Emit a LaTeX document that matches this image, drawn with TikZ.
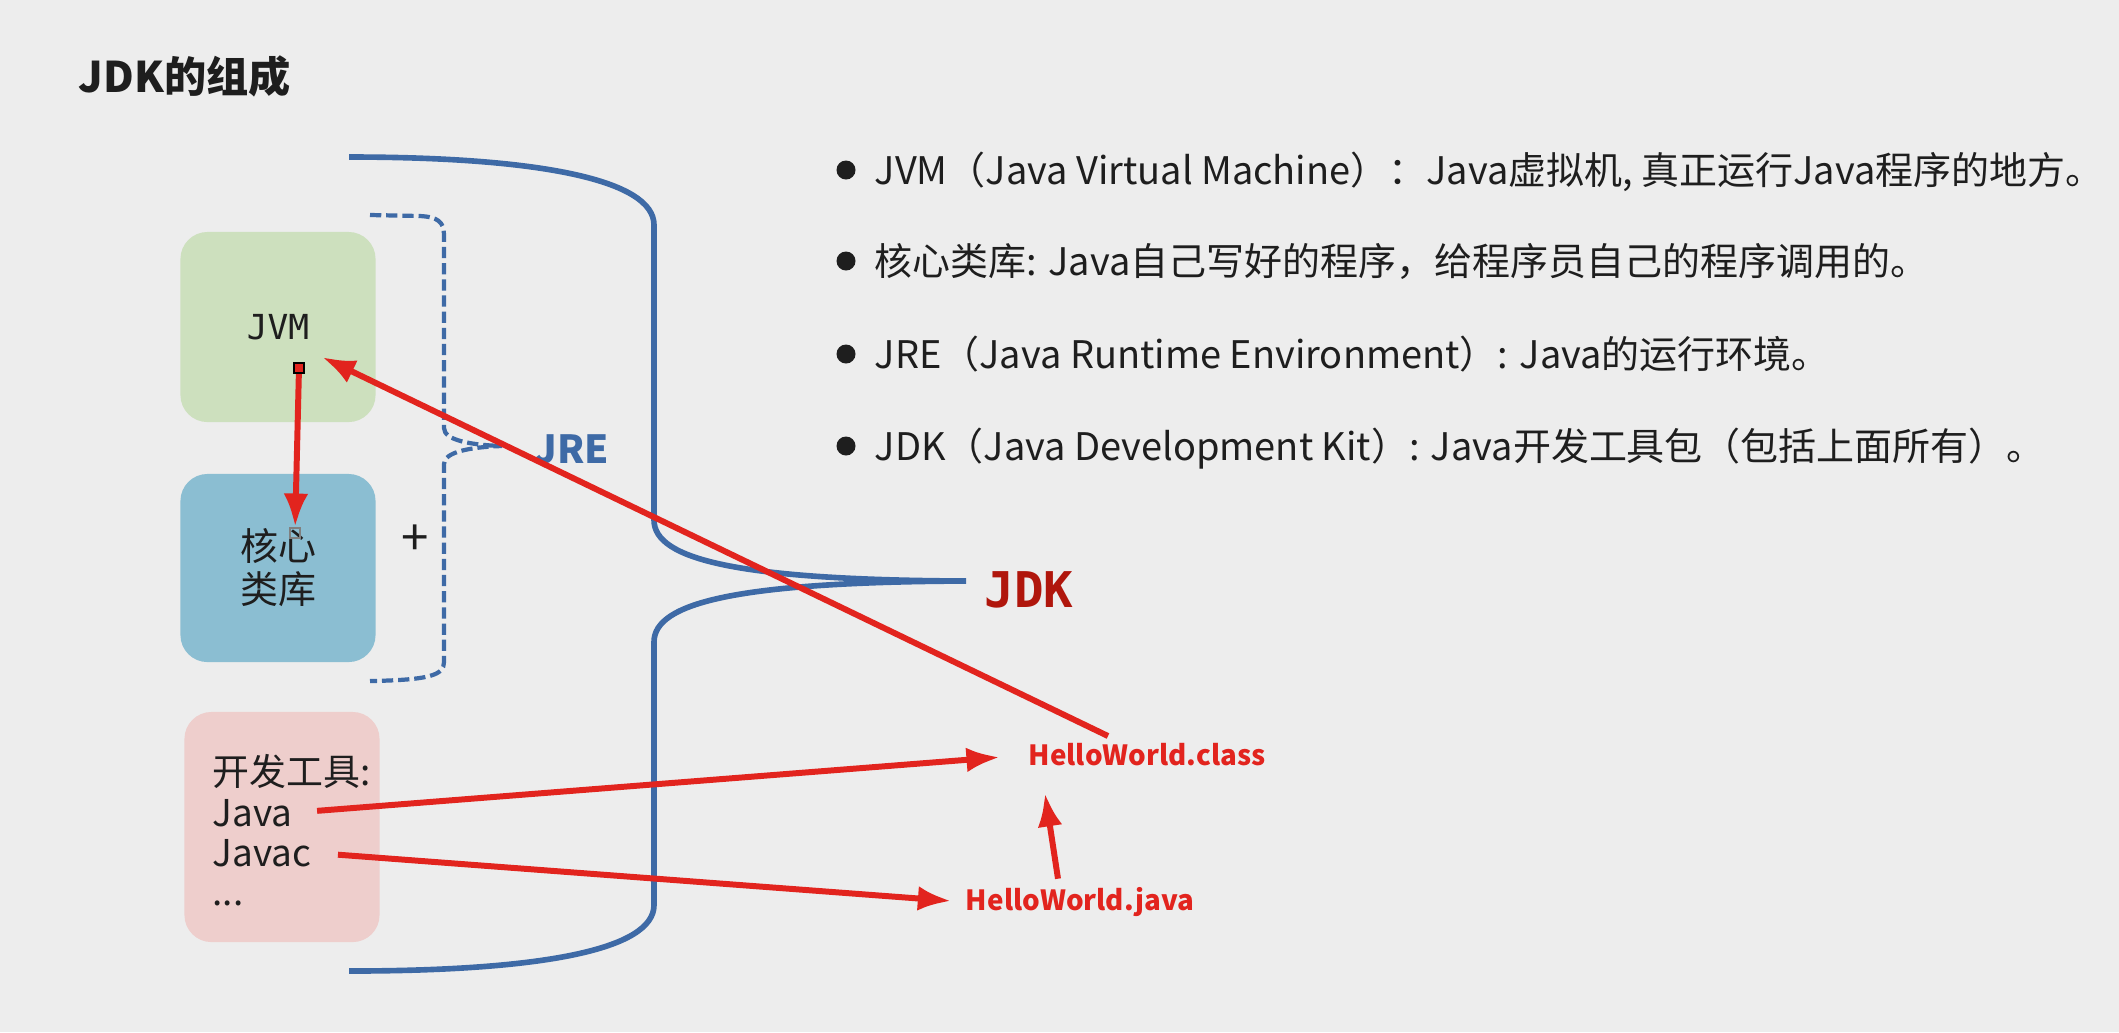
\documentclass[tikz,border=0pt]{standalone}
\usepackage{fontspec}
\setmainfont{Noto Sans CJK SC}
\newfontfamily\monofont{DejaVu Sans Mono}
\usetikzlibrary{arrows.meta, positioning}

\definecolor{bggray}{RGB}{237,237,237}
\definecolor{jdkblue}{RGB}{62,106,166}
\definecolor{jvmgreen}{RGB}{205,224,190}
\definecolor{libblue}{RGB}{139,190,210}
\definecolor{toolpink}{RGB}{238,206,204}
\definecolor{arrowred}{RGB}{226,36,30}
\definecolor{jdkred}{RGB}{176,22,12}
\definecolor{ink}{RGB}{30,30,30}

\tikzset{
  box/.style={rounded corners=0.27cm, minimum width=1.95cm, inner sep=0pt, text=ink},
  redarrow/.style={draw=arrowred, line width=1.7pt, -{Latex[length=9.5pt,width=7pt]}},
  handle/.style={draw=black, line width=0.6pt, minimum size=0.1cm, inner sep=0pt},
  dot/.style={circle, fill=ink, minimum size=0.19cm, inner sep=0pt},
  item/.style={anchor=base west, inner sep=0pt, text=ink, font=\fontsize{10.8}{13}\selectfont},
  tooltext/.style={anchor=base west, inner sep=0pt, text=ink, font=\fontsize{10.5}{12}\selectfont},
  filename/.style={inner sep=0pt, text=arrowred, font=\fontsize{7.9}{9}\selectfont\bfseries},
}

\begin{document}
\begin{tikzpicture}[x=0.01cm, y=-0.01cm]
  \fill[bggray] (0,0) rectangle (2119,1032);
  \useasboundingbox (0,0) rectangle (2119,1032);

  \node[anchor=west, inner sep=0pt, text=ink, font=\fontsize{12}{14}\selectfont\bfseries] (title) at (78,76) {JDK的组成};

  % the three blocks
  \node[box, fill=jvmgreen, minimum height=1.9cm, font=\monofont\fontsize{9.8}{12}\selectfont] (jvm) at (278,327) {JVM};
  \node[box, fill=libblue, minimum height=1.88cm, align=center, font=\fontsize{10.8}{12.2}\selectfont] (lib) at (278,568) {核心\\类库};
  \node[box, fill=toolpink, minimum height=2.3cm] (tools) at (282,827) {};
  \node[tooltext] (toolname) at (212,785) {开发工具:};
  \node[tooltext] (java) at (212,826) {Java};
  \node[tooltext] (javac) at (212,866) {Javac};
  \node[tooltext] (more) at (212,905) {...};

  \node[text=ink, inner sep=0pt, font=\fontsize{14}{15}\selectfont] (plus) at (415,540) {+};

  % JRE bracket
  \draw[jdkblue, line width=1.2pt, dash pattern=on 3.2pt off 1.4pt]
    (370,215) -- (420,216) .. controls (438,217) and (444,222) .. (444,235)
    -- (444,428) .. controls (444,440) and (470,445) .. (502,446)
    .. controls (470,447) and (444,452) .. (444,464)
    -- (444,662) .. controls (444,675) and (430,680) .. (370,681);
  \node[anchor=west, inner sep=0pt, text=jdkblue, font=\fontsize{11}{13}\selectfont\bfseries] (jre) at (534,449) {JRE};

  % JDK bracket
  \draw[jdkblue, line width=1.6pt]
    (349,157) .. controls (540,157) and (654,180) .. (654,225)
    -- (654,520) .. controls (654,560) and (740,580) .. (966,581)
    .. controls (740,582) and (654,602) .. (654,642)
    -- (654,905) .. controls (654,950) and (540,971) .. (349,971);
  \node[anchor=west, inner sep=0pt, text=jdkred, font=\monofont\bfseries\fontsize{14}{16}\selectfont] (jdk) at (984,590) {JDK};

  % files
  \node[filename] (class) at (1147,755) {HelloWorld.class};
  \node[filename] (javafile) at (1080,902) {HelloWorld.java};

  % arrows
  \node[handle, fill=arrowred] (hstart) at (299,368) {};
  \node[handle, draw=gray] (hend) at (295,533) {};
  \draw[redarrow] (hstart) -- (hend);
  \draw[redarrow] ([xshift=-0.39cm, yshift=0.07cm]class.north) -- ([xshift=0.44cm, yshift=-0.3cm]jvm.center);
  \draw[redarrow, shorten <=0.24cm, shorten >=0.28cm] (java.east) -- (class.west);
  \draw[redarrow, shorten <=0.26cm, shorten >=0.14cm] (javac.east) -- (javafile.west);
  \draw[redarrow] ([xshift=-0.22cm, yshift=0.08cm]javafile.north) -- ([xshift=-1.02cm, yshift=-0.26cm]class.south);

  % list on the right
  \node[dot] (d1) at (846,170) {};
  \node[dot] (d2) at (846,261) {};
  \node[dot] (d3) at (846,354) {};
  \node[dot] (d4) at (846,446) {};
  \node[item] (i1) at (874,184) {JVM（Java Virtual Machine）：Java虚拟机, 真正运行Java程序的地方。};
  \node[item] (i2) at (874,275) {核心类库: Java自己写好的程序，给程序员自己的程序调用的。};
  \node[item] (i3) at (874,368) {JRE（Java Runtime Environment）: Java的运行环境。};
  \node[item] (i4) at (874,460) {JDK（Java Development Kit）: Java开发工具包（包括上面所有）。};
\end{tikzpicture}
\end{document}
